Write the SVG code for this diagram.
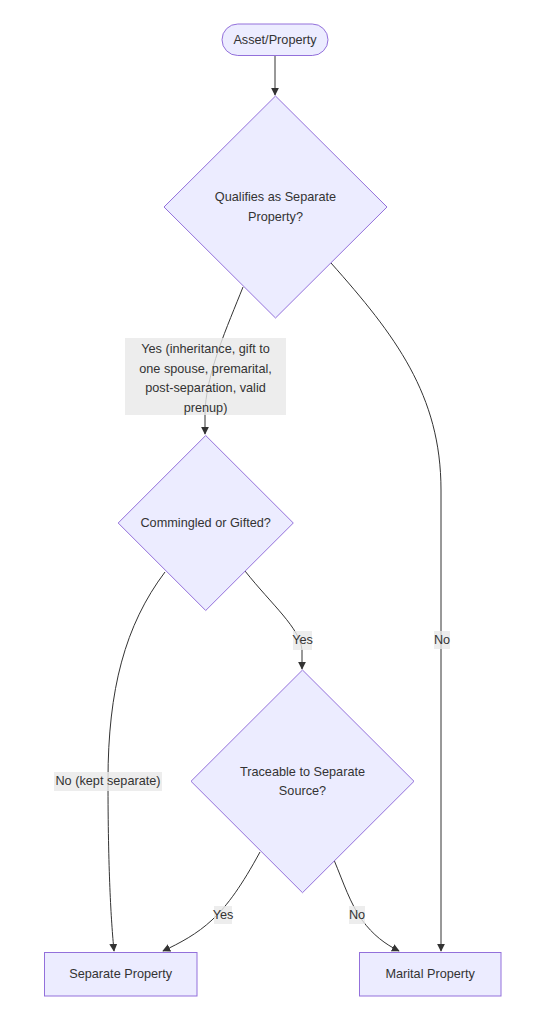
<svg xmlns="http://www.w3.org/2000/svg" width="559" height="1024" viewBox="0 0 559 1024">
<style>
  .node { fill: #ECECFF; stroke: #9370DB; stroke-width: 1; }
  .t { font-family: "Liberation Sans", Arial, sans-serif; font-size: 12.7px; fill: #333333; text-anchor: middle; dominant-baseline: central; }
  .edge { fill: none; stroke: #333333; stroke-width: 1; marker-end: url(#arrow); }
  .lbl { fill: #e8e8e8; fill-opacity: 0.8; stroke: none; }
</style>
<defs>
  <marker id="arrow" viewBox="0 0 10 10" refX="9" refY="5" markerWidth="8" markerHeight="8" markerUnits="userSpaceOnUse" orient="auto">
    <path d="M0,0 L10,5 L0,10 z" fill="#333333"/>
  </marker>
</defs>
<rect width="559" height="1024" fill="#ffffff"/>

<g id="connectors">
  <path class="edge" d="M275,56 L275,95"/>
  <path class="edge" d="M243,287 C228,325 205,375 205,415 L205,434"/>
  <path class="edge" d="M331,263 C395,335 441,395 441,490 L441,951"/>
  <path class="edge" d="M165,572 C125,625 108,690 108,780 C108,870 111,920 114,951"/>
  <path class="edge" d="M245,571 C272,605 300,628 302,650 L302,669"/>
  <path class="edge" d="M260,852 C242,885 228,905 212,920 C197,934 180,943 163,951"/>
  <path class="edge" d="M334,860 C344,884 350,903 362,920 C373,935 385,944 399,951"/>
</g>

<g id="edge-labels">
  <g id="label-yes1">
    <rect class="lbl" x="125" y="338" width="161" height="77"/>
    <text class="t" x="205.5" y="349">Yes (inheritance, gift to</text>
    <text class="t" x="205.5" y="368.5">one spouse, premarital,</text>
    <text class="t" x="205.5" y="388">post-separation, valid</text>
    <text class="t" x="205.5" y="407.5">prenup)</text>
  </g>
  <g id="label-no1">
    <rect class="lbl" x="434" y="631" width="16" height="18"/>
    <text class="t" x="442" y="640">No</text>
  </g>
  <g id="label-yes2">
    <rect class="lbl" x="293" y="631" width="19" height="19"/>
    <text class="t" x="302.5" y="640">Yes</text>
  </g>
  <g id="label-no2">
    <rect class="lbl" x="54" y="772" width="108" height="19"/>
    <text class="t" x="108" y="781">No (kept separate)</text>
  </g>
  <g id="label-yes3">
    <rect class="lbl" x="214" y="906" width="18" height="18"/>
    <text class="t" x="223" y="915">Yes</text>
  </g>
  <g id="label-no3">
    <rect class="lbl" x="349" y="906" width="16" height="18"/>
    <text class="t" x="357" y="915">No</text>
  </g>
</g>

<g id="node-start">
  <rect class="node" x="222" y="24" width="106" height="31.5" rx="15.75" ry="15.75"/>
  <text class="t" x="275" y="39.5">Asset/Property</text>
</g>

<g id="node-qualifies">
  <polygon class="node" points="275.5,96 387,207 275.5,318 164,207"/>
  <text class="t" x="275.5" y="197">Qualifies as Separate</text>
  <text class="t" x="275.5" y="216.5">Property?</text>
</g>

<g id="node-commingled">
  <polygon class="node" points="205.7,435.5 293.3,523 205.7,610.5 118.2,523"/>
  <text class="t" x="205.7" y="523">Commingled or Gifted?</text>
</g>

<g id="node-traceable">
  <polygon class="node" points="302.5,670 414,781.3 302.5,892.7 191,781.3"/>
  <text class="t" x="302.5" y="771.5">Traceable to Separate</text>
  <text class="t" x="302.5" y="791">Source?</text>
</g>

<g id="node-separate">
  <rect class="node" x="44.5" y="952.5" width="152.5" height="43.5"/>
  <text class="t" x="120.7" y="974">Separate Property</text>
</g>

<g id="node-marital">
  <rect class="node" x="359.5" y="952.5" width="141.5" height="43.5"/>
  <text class="t" x="430.2" y="974">Marital Property</text>
</g>
</svg>
